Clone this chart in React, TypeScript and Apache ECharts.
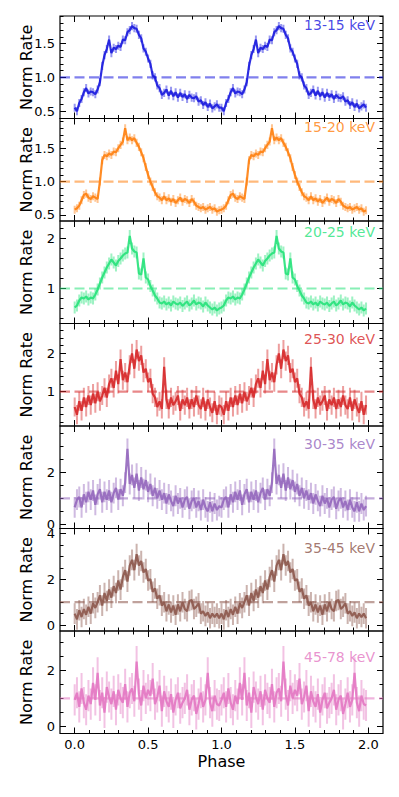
import { useEffect, useRef } from "react";
import * as echarts from "echarts";

// ---------- data (one pulse cycle per band, shown twice: phase 0-2) ----------
const BINS_PER_CYCLE = 64;
const CYCLES = 2;

const bandNames = ["13-15 keV", "15-20 keV", "20-25 keV", "25-30 keV", "30-35 keV", "35-45 keV", "45-78 keV"];

const rate13to15 = [
  0.55, 0.5, 0.62, 0.68, 0.78, 0.84, 0.76, 0.79,
  0.78, 0.75, 0.82, 0.93, 1.17, 1.33, 1.42, 1.56,
  1.36, 1.44, 1.42, 1.47, 1.45, 1.56, 1.55, 1.67,
  1.7, 1.76, 1.73, 1.72, 1.63, 1.58, 1.43, 1.38,
  1.28, 1.2, 1.03, 1.0, 0.88, 0.84, 0.74, 0.77,
  0.82, 0.73, 0.8, 0.72, 0.78, 0.7, 0.77, 0.71,
  0.75, 0.68, 0.74, 0.7, 0.69, 0.72, 0.64, 0.66,
  0.59, 0.63, 0.56, 0.61, 0.54, 0.57, 0.6, 0.55,
];
const rate15to20 = [
  0.58, 0.6, 0.64, 0.72, 0.8, 0.82, 0.76, 0.74,
  0.78, 0.76, 0.74, 1.0, 1.32, 1.4, 1.38, 1.42,
  1.4, 1.45, 1.44, 1.5, 1.55, 1.6, 1.8, 1.62,
  1.66, 1.62, 1.65, 1.58, 1.52, 1.44, 1.35, 1.22,
  1.1, 1.0, 0.92, 0.84, 0.78, 0.76, 0.72, 0.78,
  0.72, 0.75, 0.7, 0.74, 0.68, 0.72, 0.76, 0.7,
  0.74, 0.72, 0.68, 0.74, 0.7, 0.64, 0.62, 0.6,
  0.62, 0.58, 0.6, 0.62, 0.58, 0.6, 0.55, 0.57,
];
const rate20to25 = [
  0.62, 0.66, 0.76, 0.82, 0.8, 0.84, 0.78, 0.82,
  0.8, 0.88, 0.98, 1.1, 1.22, 1.32, 1.42, 1.5,
  1.58, 1.52, 1.46, 1.55, 1.6, 1.66, 1.7, 1.72,
  2.05, 1.8, 1.74, 1.72, 1.3, 1.28, 1.6, 1.22,
  1.18, 1.05, 0.96, 0.86, 0.8, 0.72, 0.7, 0.74,
  0.68, 0.72, 0.66, 0.74, 0.7, 0.68, 0.72, 0.65,
  0.7, 0.74, 0.66, 0.7, 0.76, 0.68, 0.72, 0.7,
  0.64, 0.72, 0.66, 0.62, 0.58, 0.62, 0.56, 0.6,
];
const rate25to30 = [
  0.6, 0.4, 0.75, 0.5, 0.85, 0.6, 0.9, 0.65,
  0.95, 0.7, 1.0, 0.75, 0.9, 1.1, 0.85, 1.2,
  1.35, 1.1, 1.55, 1.2, 1.85, 1.3, 1.5, 1.25,
  1.7, 2.0, 1.6, 2.1, 1.8, 1.95, 1.5, 1.6,
  1.25, 1.35, 0.95, 0.85, 0.6, 0.75, 0.55, 1.65,
  0.8, 0.55, 0.85, 0.65, 0.75, 0.9, 0.5, 0.8,
  0.65, 0.85, 0.55, 0.8, 0.6, 0.9, 0.65, 0.55,
  0.85, 0.5, 0.8, 0.6, 0.45, 0.75, 0.4, 0.65,
];
const rate30to35 = [
  0.65, 0.95, 1.05, 0.65, 1.15, 0.85, 1.25, 0.95,
  1.3, 0.75, 1.15, 1.35, 0.85, 1.25, 0.95, 1.3,
  0.85, 1.2, 1.4, 0.95, 1.35, 1.1, 1.6, 2.9,
  1.55, 1.9, 1.4, 1.95, 1.3, 1.8, 1.35, 1.7,
  1.25, 1.55, 1.1, 1.4, 1.0, 1.3, 0.95, 1.2,
  0.8, 1.15, 0.9, 0.7, 1.1, 0.8, 1.0, 0.65,
  0.95, 1.05, 0.6, 0.9, 1.0, 0.65, 0.9, 0.55,
  0.95, 0.65, 0.5, 0.85, 0.5, 0.8, 0.55, 0.7,
];
const rate35to45 = [
  0.5, 0.25, 0.65, 0.35, 0.7, 0.45, 0.8, 0.5,
  0.95, 0.75, 1.0, 1.3, 0.85, 1.4, 1.05, 1.55,
  1.2, 1.7, 1.4, 1.95, 1.55, 2.1, 2.4, 1.9,
  2.6, 2.85, 2.4, 3.1, 2.6, 2.8, 2.3, 2.45,
  1.95, 2.0, 1.45, 1.6, 1.15, 1.3, 0.85, 1.0,
  0.6, 0.9, 0.55, 0.85, 0.45, 0.9, 0.6, 1.0,
  0.7, 0.6, 1.05, 1.1, 0.7, 0.8, 0.95, 0.5,
  0.6, 0.4, 0.55, 0.3, 0.5, 0.35, 0.5, 0.3,
];
const rate45to78 = [
  0.95, 1.2, 0.7, 1.35, 0.85, 0.6, 1.1, 0.8,
  1.55, 0.95, 1.9, 0.75, 1.2, 0.5, 1.4, 1.05,
  0.8, 1.25, 0.6, 1.3, 1.0, 0.85, 1.5, 0.7,
  1.2, 1.35, 0.9, 2.3, 1.15, 0.75, 1.45, 1.0,
  1.3, 1.1, 1.7, 0.8, 1.05, 1.45, 0.55, 1.25,
  0.9, 0.7, 1.15, 0.5, 0.95, 1.2, 0.65, 0.85,
  1.0, 1.3, 0.6, 0.95, 1.1, 0.45, 0.8, 1.2,
  0.7, 0.95, 1.9, 0.85, 0.55, 1.1, 0.8, 0.75,
];

const bandRates = [rate13to15, rate15to20, rate20to25, rate25to30, rate30to35, rate35to45, rate45to78];
const bandErrors = [0.06, 0.06, 0.12, 0.25, 0.4, 0.45, 0.55];

// axis ranges and tick labels
const xRange = [-0.1, 2.1];
const xMajorTicks = [0, 0.5, 1, 1.5, 2];
const xMinorStep = 0.1;
const yMins = [0.39, 0.41, 0.3, 0.105, -0.16, -0.26, -0.24];
const yMaxs = [1.91, 1.945, 2.35, 2.78, 3.78, 4.22, 3.38];
const yMajorTicks = [[0.5, 1.0, 1.5], [0.5, 1.0, 1.5], [1, 2], [1, 2], [0, 2], [0, 2, 4], [0, 2]];
const yMinorSteps = [0.1, 0.1, 0.2, 0.2, 0.5, 0.5, 0.5];
const yLabelDecimals = [1, 1, 0, 0, 0, 0, 0];
const referenceLevel = 1;

// styles
const lineColors = ["#1818de", "#ff7f0e", "#26e27a", "#d62728", "#9467bd", "#8c564b", "#e377c2"];
const labelOffsets = [10, 9, 11.7, 16.5, 19, 20, 27];
const FONT = "DejaVu Sans";
const W = 399;
const H = 797;
const GRID_LEFT = 60;
const GRID_WIDTH = 323;
const GRID_TOP = 16;
const PANEL_H = 102.5;

function minorValues(min: number, max: number, step: number): number[] {
  const out: number[] = [];
  const start = Math.ceil(min / step - 1e-9);
  for (let i = start; i * step <= max + 1e-9; i++) out.push(Math.round(i * step * 1000) / 1000);
  return out;
}

function buildOption() {
  const grid: any[] = [];
  const xAxis: any[] = [];
  const yAxis: any[] = [];
  const series: any[] = [];
  const graphic: any[] = [];
  const xMinor = minorValues(0, 2, xMinorStep);

  bandRates.forEach((rates, k) => {
    const top = GRID_TOP + k * PANEL_H;
    const color = lineColors[k];
    grid.push({
      left: GRID_LEFT, width: GRID_WIDTH, top, height: PANEL_H,
      show: true, borderColor: "#000", borderWidth: 1.2, backgroundColor: "transparent",
    });
    const isBottom = k === bandRates.length - 1;
    const mkX = (position: string, values: number[], len: number, labels: boolean) => {
      const ax: any = {
        type: "value", gridIndex: k, position, min: xRange[0], max: xRange[1],
        axisLine: { show: false, onZero: false },
        axisTick: { show: true, inside: true, length: len, customValues: values, lineStyle: { color: "#000", width: 1 } },
        axisLabel: labels
          ? { show: true, customValues: xMajorTicks, formatter: (v: number) => v.toFixed(1), margin: 4, fontSize: 13, color: "#000", fontFamily: FONT }
          : { show: false },
        splitLine: { show: false },
      };
      if (labels) {
        ax.name = "Phase";
        ax.nameLocation = "middle";
        ax.nameGap = 20;
        ax.nameMoveOverlap = false;
        ax.nameTextStyle = { fontSize: 16, color: "#000", fontFamily: FONT };
      }
      return ax;
    };
    xAxis.push(mkX("bottom", xMajorTicks, 6, isBottom));
    xAxis.push(mkX("bottom", xMinor, 3.5, false));
    xAxis.push(mkX("top", xMajorTicks, 6, false));
    xAxis.push(mkX("top", xMinor, 3.5, false));

    const yMinor = minorValues(yMins[k], yMaxs[k], yMinorSteps[k]);
    const dec = yLabelDecimals[k];
    const mkY = (position: string, values: number[], len: number, labels: boolean) => {
      const ax: any = {
        type: "value", gridIndex: k, position, min: yMins[k], max: yMaxs[k],
        axisLine: { show: false, onZero: false },
        axisTick: { show: true, inside: true, length: len, customValues: values, lineStyle: { color: "#000", width: 1 } },
        axisLabel: labels
          ? { show: true, customValues: yMajorTicks[k], formatter: (v: number) => v.toFixed(dec), margin: 5, fontSize: 13, color: "#000", fontFamily: FONT }
          : { show: false },
        splitLine: { show: false },
      };
      if (labels) {
        ax.name = "Norm Rate";
        ax.nameLocation = "middle";
        ax.nameGap = 26;
        ax.nameMoveOverlap = false;
        ax.nameTextStyle = { fontSize: 16, color: "#000", fontFamily: FONT };
      }
      return ax;
    };
    yAxis.push(mkY("left", yMajorTicks[k], 6, true));
    yAxis.push(mkY("left", yMinor, 3.5, false));
    yAxis.push(mkY("right", yMajorTicks[k], 6, false));
    yAxis.push(mkY("right", yMinor, 3.5, false));

    const points: number[][] = [];
    for (let c = 0; c < CYCLES; c++) {
      rates.forEach((v, i) => points.push([c + i / BINS_PER_CYCLE, v, bandErrors[k]]));
    }
    const axIdx = 4 * k;

    series.push({
      type: "line", xAxisIndex: axIdx, yAxisIndex: axIdx, silent: true, z: 1,
      data: [[xRange[0], referenceLevel], [xRange[1], referenceLevel]],
      symbol: "none",
      lineStyle: { color, width: 2.2, type: [10, 4.5], opacity: 0.55 },
    });
    series.push({
      type: "custom", xAxisIndex: axIdx, yAxisIndex: axIdx, silent: true, z: 2, clip: true,
      data: points,
      encode: { x: 0, y: 1 },
      renderItem: (_p: any, api: any) => {
        const x = api.value(0);
        const y = api.value(1);
        const e = api.value(2);
        const a = api.coord([x, y - e]);
        const b = api.coord([x, y + e]);
        return {
          type: "line",
          shape: { x1: a[0], y1: a[1], x2: b[0], y2: b[1] },
          style: { stroke: color, lineWidth: 2, opacity: 0.45 },
        };
      },
    });
    series.push({
      type: "line", xAxisIndex: axIdx, yAxisIndex: axIdx, silent: true, z: 3,
      data: points.map((p) => [p[0], p[1]]),
      symbol: "none",
      lineStyle: { color, width: 2.2, opacity: 0.9 },
    });

    graphic.push({
      type: "text", right: W - 375, top: top + labelOffsets[k] - 8, z: 20,
      style: { text: bandNames[k], fill: color, opacity: 0.8, font: `14px "${FONT}"` },
    });
  });

  return { animation: false, backgroundColor: "#fff", grid, xAxis, yAxis, series, graphic };
}

export default function App() {
  const ref = useRef<HTMLDivElement>(null);
  useEffect(() => {
    const chart = echarts.init(ref.current!, null, { renderer: "svg" });
    chart.setOption(buildOption() as any);
    return () => chart.dispose();
  }, []);
  return (
    <div
      ref={ref}
      style={{ position: "fixed", left: 0, top: 0, width: W, height: H, background: "#fff" }}
    />
  );
}
